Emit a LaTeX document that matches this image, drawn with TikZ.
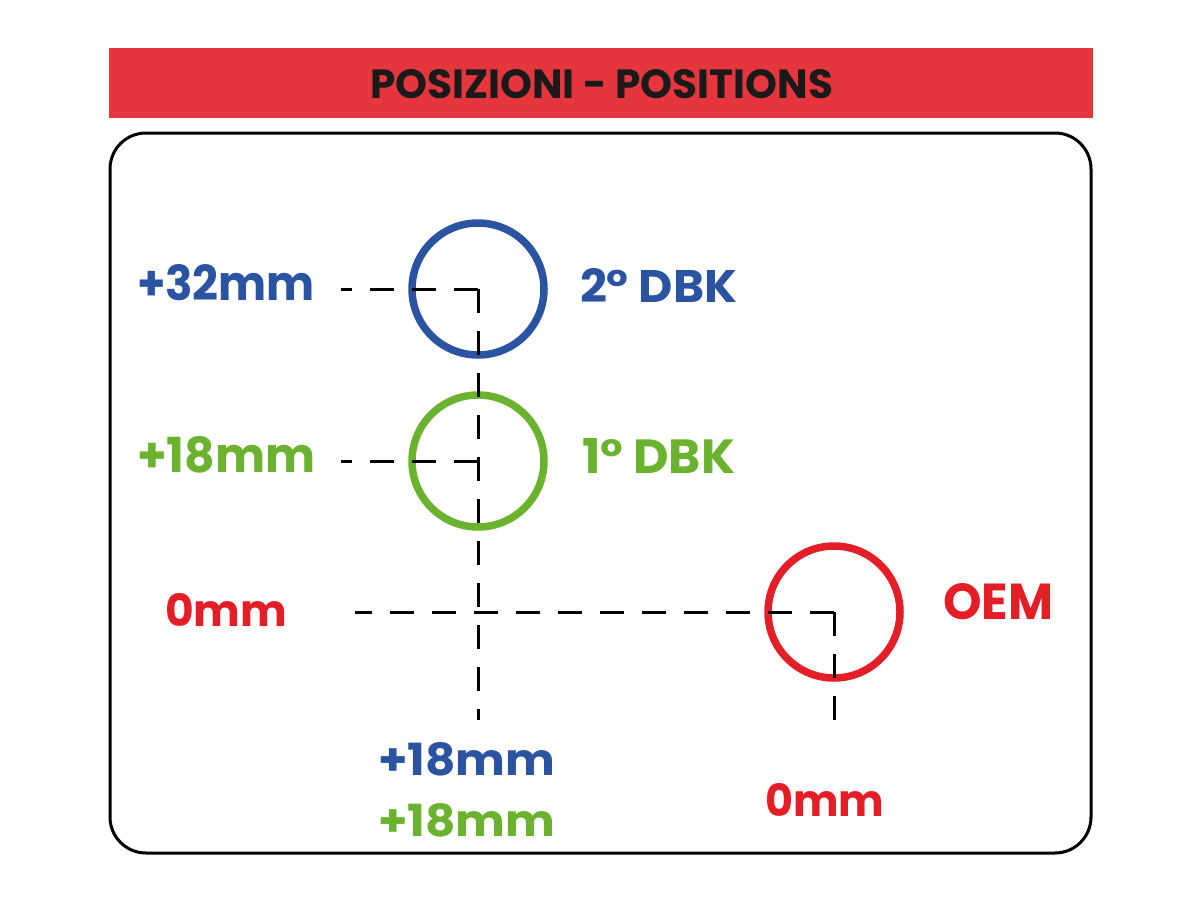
\documentclass[tikz,border=0pt]{standalone}
\usepackage{fontspec}
\usepackage{graphicx}
\newfontfamily\popfont{Poppins}
\definecolor{dbkblue}{HTML}{2A54A2}
\definecolor{dbkgreen}{HTML}{6BB32E}
\definecolor{oemred}{HTML}{E31E26}
\definecolor{barred}{HTML}{E5363D}
\definecolor{titleink}{HTML}{1A1A1A}
\newcommand{\fitlbl}[3]{\resizebox{#1pt}{#2pt}{\popfont\bfseries #3}}
\begin{document}
\begin{tikzpicture}[x=1pt,y=-1pt,
  lbl/.style={inner sep=0pt, outer sep=0pt, anchor=south west},
  ring/.style={circle, draw=#1, line width=7.5pt, minimum size=132pt, inner sep=0pt},
  guide/.style={draw=black, line width=3pt, dash pattern=on 24pt off 18pt},
  frame/.style={draw=black, line width=3pt, rounded corners=36pt}]
\useasboundingbox (0,0) rectangle (1200,900);
% title bar
\fill[barred] (109,48) rectangle (1093,118);
\node[lbl, text=titleink] (title) at (370,99) {\fitlbl{463}{29}{POSIZIONI - POSITIONS}};
% frame
\draw[frame] (110,133) rectangle (1091,853);
% rings
\node[ring=dbkblue] (c2) at (478,289) {};
\node[ring=dbkgreen] (c1) at (478,461) {};
\node[ring=oemred] (c0) at (834,612) {};
% guide coordinates
\coordinate (b2) at (341,289);
\coordinate (b1) at (341,461);
\coordinate (b0) at (355,612);
\coordinate (v1) at (478,720);
\coordinate (v0) at (834,720);
% dashed guides
\draw[guide] (c2.center) -- (b2);
\draw[guide] (c2.center) -- (v1);
\draw[guide] (c1.center) -- (b1);
\draw[guide] (c0.center) -- (b0);
\draw[guide] (c0.center) -- (v0);
% labels
\node[lbl, text=dbkblue] (l32) at (137,301) {\fitlbl{178}{36}{+32mm}};
\node[lbl, text=dbkblue] (n2) at (580,302) {\fitlbl{157}{34}{2° DBK}};
\node[lbl, text=dbkgreen] (l18) at (137,473) {\fitlbl{178}{36}{+18mm}};
\node[lbl, text=dbkgreen] (n1) at (582,473) {\fitlbl{153}{35}{1° DBK}};
\node[lbl, text=oemred] (l0) at (165,626) {\fitlbl{122}{33}{0mm}};
\node[lbl, text=oemred] (oem) at (943,620) {\fitlbl{110}{36}{OEM}};
\node[lbl, text=dbkblue] (x18b) at (378,776) {\fitlbl{177}{33}{+18mm}};
\node[lbl, text=dbkgreen] (x18g) at (378,837) {\fitlbl{177}{33}{+18mm}};
\node[lbl, text=oemred] (x0) at (765,816) {\fitlbl{119}{33}{0mm}};
\end{tikzpicture}
\end{document}
